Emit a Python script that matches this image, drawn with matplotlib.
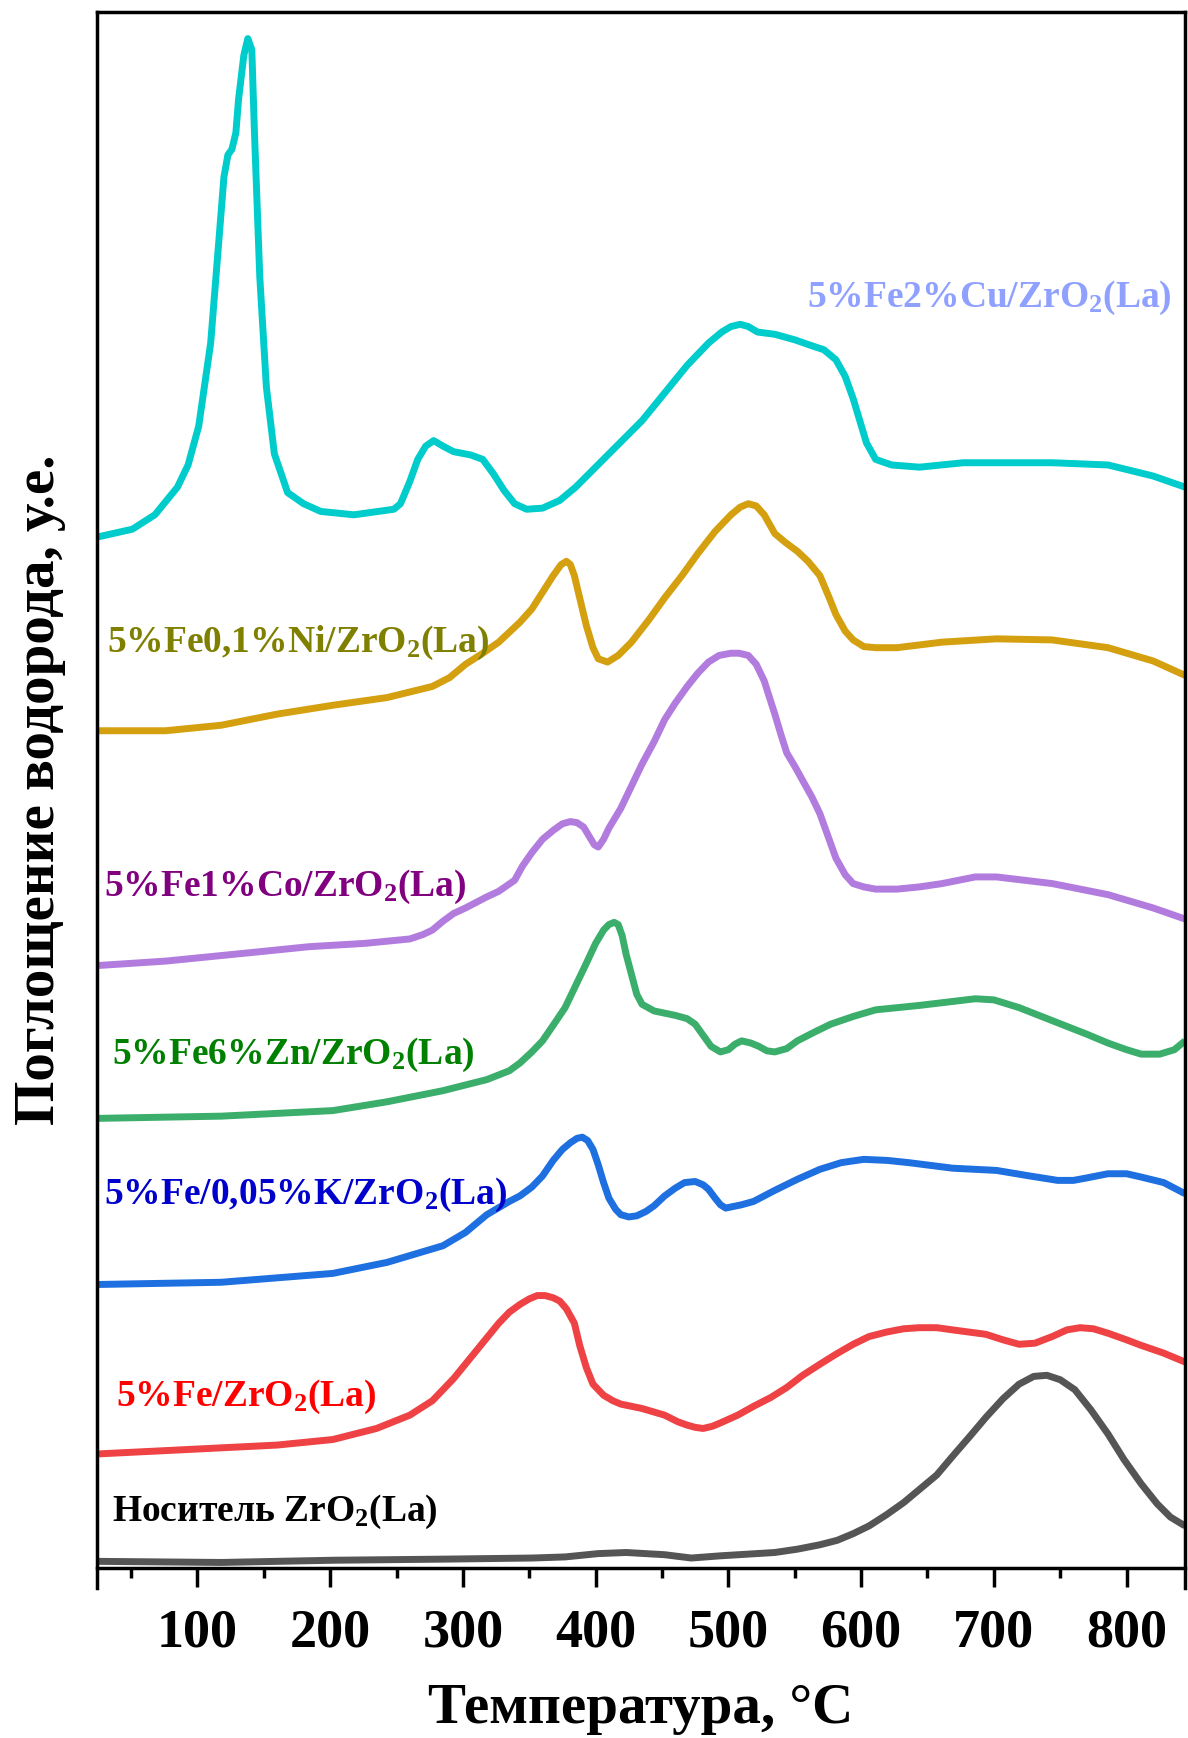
import matplotlib
matplotlib.use("Agg")
import matplotlib.pyplot as plt
from matplotlib.ticker import MultipleLocator

plt.rcParams["font.family"] = ["Liberation Serif", "DejaVu Serif"]
plt.rcParams["font.weight"] = "bold"
plt.rcParams["mathtext.fontset"] = "custom"
plt.rcParams["mathtext.rm"] = "Liberation Serif:bold"
plt.rcParams["mathtext.it"] = "Liberation Serif:bold"
plt.rcParams["mathtext.bf"] = "Liberation Serif:bold"

# ── data (temperature, °C / hydrogen uptake, a.u. with vertical offsets) ──
T_CU = [25, 51, 68, 85, 93, 101, 110, 116, 120, 123, 126, 129, 131, 135, 138, 141, 143,
        147, 152, 158, 168, 180, 193, 218, 248, 253, 260, 266, 272, 278, 285, 293, 306,
        315, 323, 331, 339, 348, 360, 373, 385, 410, 435, 452, 469, 485, 495, 502, 509,
        515, 522, 535, 550, 562, 572, 581, 588, 594, 599, 604, 611, 623, 644, 677, 702,
        744, 786, 820, 844]
Y_CU = [925, 932, 945, 970, 990, 1025, 1100, 1190, 1250, 1270, 1275, 1290, 1320, 1360,
        1375, 1365, 1290, 1160, 1060, 1000, 965, 955, 948, 945, 950, 955, 975, 995, 1007,
        1012, 1007, 1002, 999, 995, 982, 967, 955, 950, 951, 958, 970, 1000, 1030, 1055,
        1080, 1100, 1110, 1115, 1117, 1115, 1110, 1108, 1103, 1098, 1094, 1085, 1070,
        1050, 1030, 1010, 995, 990, 988, 992, 992, 992, 990, 980, 970]

T_NI = [25, 76, 118, 160, 202, 243, 277, 290, 302, 315, 327, 343, 352, 360, 368, 374,
        378, 381, 384, 388, 393, 398, 402, 409, 417, 427, 440, 452, 465, 477, 490, 502,
        509, 515, 521, 527, 535, 543, 552, 560, 569, 576, 581, 588, 594, 602, 611, 627,
        661, 702, 744, 786, 820, 844]
Y_NI = [750, 750, 755, 765, 773, 780, 790, 798, 810, 820, 830, 848, 860, 875, 890, 900,
        903, 900, 890, 870, 845, 825, 815, 812, 818, 830, 850, 870, 890, 910, 930, 945,
        952, 955, 953, 945, 928, 920, 912, 903, 890, 870, 855, 840, 832, 826, 825, 825,
        830, 833, 832, 825, 813, 800]

T_CO = [25, 76, 143, 184, 226, 260, 270, 277, 285, 293, 302, 310, 318, 327, 333, 339,
        345, 352, 360, 368, 375, 381, 386, 391, 395, 399, 402, 406, 410, 419, 427, 435,
        444, 452, 460, 469, 477, 485, 493, 502, 508, 515, 521, 527, 531, 535, 540, 544,
        550, 556, 563, 569, 575, 581, 588, 594, 602, 611, 627, 644, 661, 686, 702, 744,
        786, 820, 844]
Y_CO = [538, 542, 550, 555, 558, 562, 566, 570, 578, 585, 590, 595, 600, 605, 610, 615,
        628, 640, 652, 660, 666, 668, 667, 663, 655, 647, 645, 652, 662, 680, 700, 720,
        740, 760, 775, 790, 802, 812, 818, 820, 820, 818, 810, 795, 780, 765, 745, 730,
        718, 705, 690, 675, 655, 635, 620, 612, 609, 607, 607, 609, 612, 618, 618, 612,
        602, 590, 580]

T_ZN = [25, 118, 202, 243, 285, 318, 335, 343, 352, 360, 368, 377, 385, 393, 400, 406,
        410, 414, 417, 420, 423, 427, 431, 435, 444, 452, 460, 469, 475, 481, 487, 494,
        500, 505, 510, 517, 523, 529, 535, 544, 552, 565, 577, 594, 611, 644, 686, 700,
        719, 736, 753, 770, 786, 800, 811, 825, 836, 844]
Y_ZN = [400, 402, 407, 415, 425, 435, 443, 450, 460, 470, 484, 500, 520, 540, 558, 570,
        575, 577, 575, 565, 548, 530, 512, 503, 497, 495, 493, 490, 485, 475, 465, 460,
        462, 467, 470, 468, 465, 461, 460, 463, 470, 478, 485, 492, 498, 502, 508, 507,
        500, 492, 484, 476, 468, 462, 458, 458, 462, 470]

T_K = [25, 118, 202, 243, 285, 302, 318, 335, 343, 352, 360, 368, 375, 381, 386, 390,
       394, 398, 402, 406, 410, 415, 419, 425, 431, 438, 444, 452, 460, 467, 475, 481,
       485, 490, 494, 498, 502, 510, 519, 535, 552, 569, 585, 602, 620, 636, 669, 702,
       727, 748, 760, 769, 786, 800, 811, 828, 844]
Y_K = [250, 252, 260, 270, 285, 297, 313, 325, 330, 338, 348, 362, 372, 378, 382, 383,
       380, 372, 358, 342, 328, 318, 313, 311, 312, 316, 321, 330, 337, 342, 343, 340,
       336, 328, 322, 319, 320, 322, 325, 335, 345, 354, 360, 363, 362, 360, 355, 353,
       348, 344, 344, 346, 350, 350, 347, 342, 332]

T_FE = [25, 76, 160, 202, 235, 260, 277, 293, 310, 327, 335, 343, 350, 356, 362, 368,
        373, 378, 384, 388, 393, 398, 406, 413, 419, 435, 452, 462, 469, 475, 481, 488,
        494, 507, 519, 532, 544, 556, 569, 581, 594, 606, 619, 632, 644, 657, 669, 694,
        707, 719, 731, 744, 755, 765, 775, 786, 800, 811, 828, 844]
Y_FE = [97, 100, 105, 110, 120, 132, 145, 165, 190, 215, 225, 232, 237, 240, 240, 238,
        235, 228, 215, 195, 175, 160, 150, 145, 142, 138, 132, 126, 123, 121, 120, 122,
        125, 132, 140, 148, 157, 168, 178, 187, 196, 203, 207, 210, 211, 211, 209, 205,
        200, 196, 197, 203, 209, 211, 210, 206, 200, 195, 188, 180]

T_SUP = [25, 118, 202, 285, 352, 377, 402, 423, 452, 472, 494, 535, 552, 569, 582, 594,
         606, 619, 632, 644, 657, 669, 682, 694, 707, 719, 730, 740, 750, 761, 773, 786,
         798, 811, 823, 833, 844]
Y_SUP = [0, -1, 1, 2, 3, 4, 7, 8, 6, 3, 5, 8, 11, 15, 19, 25, 32, 42, 53, 65, 78, 95,
         113, 130, 147, 160, 167, 168, 164, 155, 137, 115, 92, 70, 52, 40, 32]

CURVES = [
    (T_CU, Y_CU, "#00CCCC"),
    (T_NI, Y_NI, "#D4A010"),
    (T_CO, Y_CO, "#B27CDE"),
    (T_ZN, Y_ZN, "#3BAE6B"),
    (T_K, Y_K, "#1E6FE0"),
    (T_FE, Y_FE, "#EE4245"),
    (T_SUP, Y_SUP, "#555555"),
]

LABELS = [
    (559, 1133, "5%Fe2%Cu/ZrO$_2$(La)", "#8FA0FF"),
    (32, 821, "5%Fe0,1%Ni/ZrO$_2$(La)", "#808000"),
    (30, 601, "5%Fe1%Co/ZrO$_2$(La)", "#800080"),
    (36, 449, "5%Fe6%Zn/ZrO$_2$(La)", "#008000"),
    (30, 323, "5%Fe/0,05%K/ZrO$_2$(La)", "#0000CD"),
    (39, 140, "5%Fe/ZrO$_2$(La)", "#FF0000"),
    (36, 37, "Носитель ZrO$_2$(La)", "black"),
]

fig = plt.figure(figsize=(11.88, 17.38), dpi=100)
ax = fig.add_axes([96.5 / 1188, 1 - 1568 / 1738, (1185 - 96.5) / 1188, (1568 - 12) / 1738])

for t, y, c in CURVES:
    ax.plot(t, y, color=c, linewidth=5, solid_joinstyle="round", solid_capstyle="butt")

for x, y, s, c in LABELS:
    ax.text(x, y, s, color=c, fontsize=27, fontweight="bold", ha="left", va="baseline")

ax.set_xlim(24, 844)
ax.set_ylim(-6, 1399)
ax.xaxis.set_major_locator(MultipleLocator(100))
ax.xaxis.set_minor_locator(MultipleLocator(50))
ax.set_yticks([])
ax.tick_params(axis="x", which="major", direction="out", length=14, width=2.5,
               labelsize=39, pad=15)
ax.tick_params(axis="x", which="minor", direction="out", length=7, width=2.5)
for lab in ax.get_xticklabels():
    lab.set_fontweight("bold")
for sp in ax.spines.values():
    sp.set_linewidth(2.5)
ax.spines["left"].set_bounds(-24, 1399)
ax.spines["right"].set_bounds(-24, 1399)

ax.set_xlabel("Температура, °С", fontsize=41, fontweight="bold", labelpad=18)
ax.set_ylabel("Поглощение водорода, у.е.", fontsize=41, fontweight="bold", labelpad=22)

fig.savefig("out.png", dpi=100)
